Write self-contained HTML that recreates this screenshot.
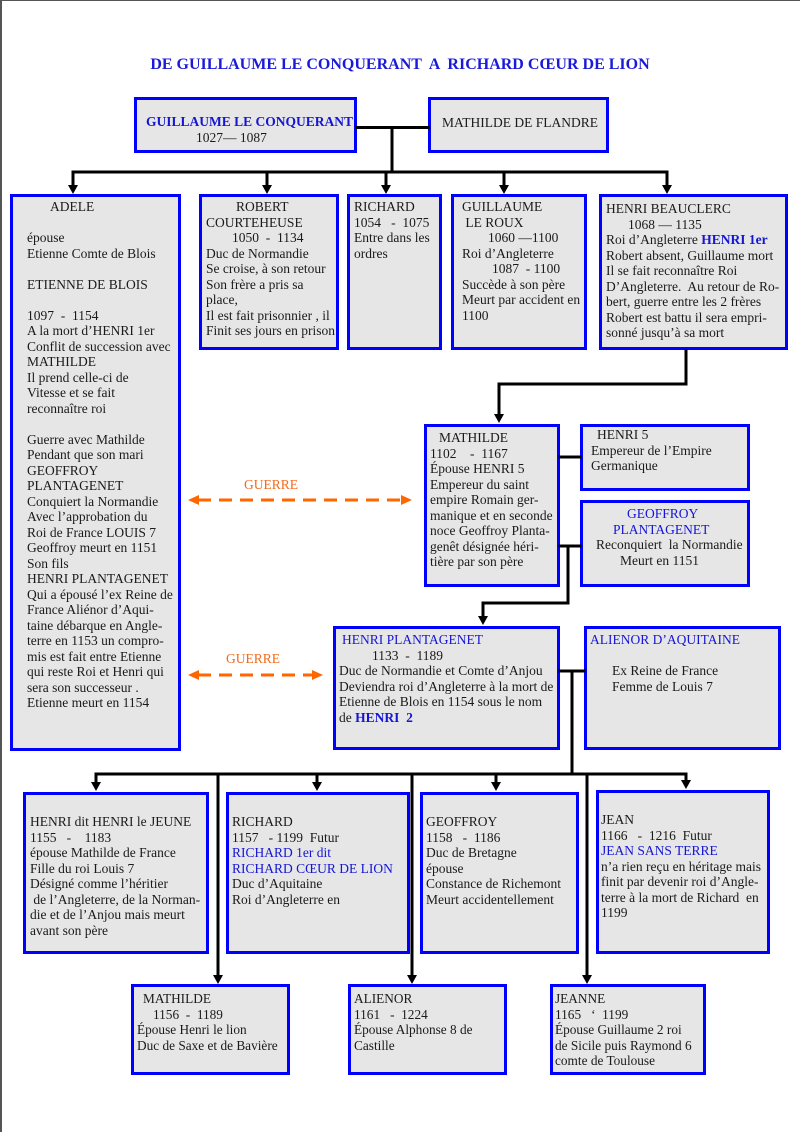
<!DOCTYPE html>
<html><head><meta charset="utf-8">
<style>
html,body{margin:0;padding:0;background:#fff;}
#pg{position:relative;width:800px;height:1132px;overflow:hidden;background:#fff;font-family:"Liberation Serif","DejaVu Serif",serif;color:#1a1a1a;}
.bl{position:absolute;left:0;top:0;width:2px;height:1132px;background:#555;}
.bt{position:absolute;left:0;top:0;width:800px;height:1px;background:#555;}
.bx{position:absolute;box-sizing:border-box;border:3px solid #0000ff;background:#e6e6e6;}
.t{position:absolute;font-size:13.5px;line-height:15.5px;white-space:normal;}
.t div{height:15.5px;white-space:pre;}
.s{font-size:13.3px;}
.b{color:#1515d5;}
.bb{color:#1515d5;font-weight:bold;}
.title{position:absolute;left:0;top:55px;width:800px;text-align:center;font-weight:bold;font-size:16px;color:#1a1ad8;white-space:pre;line-height:20px;}
.g{position:absolute;color:#f26a1b;font-size:13.5px;line-height:15.5px;}
svg{position:absolute;left:0;top:0;}
</style></head><body>
<div id="pg">
<div class="bl"></div><div class="bt"></div>
<div class="title">DE GUILLAUME LE CONQUERANT  A  RICHARD CŒUR DE LION</div>

<!-- boxes -->
<div class="bx" style="left:134px;top:97px;width:223px;height:56px;"></div>
<div class="bx" style="left:428px;top:97px;width:181px;height:56px;"></div>
<div class="bx" style="left:10px;top:194px;width:171px;height:557px;"></div>
<div class="bx" style="left:199px;top:194px;width:140px;height:156px;"></div>
<div class="bx" style="left:347px;top:194px;width:95px;height:156px;"></div>
<div class="bx" style="left:451px;top:194px;width:136px;height:156px;"></div>
<div class="bx" style="left:599px;top:194px;width:189px;height:156px;"></div>
<div class="bx" style="left:424px;top:424px;width:136px;height:163px;"></div>
<div class="bx" style="left:580px;top:424px;width:170px;height:67px;"></div>
<div class="bx" style="left:580px;top:500px;width:170px;height:87px;"></div>
<div class="bx" style="left:333px;top:626px;width:227px;height:124px;"></div>
<div class="bx" style="left:584px;top:626px;width:197px;height:124px;"></div>
<div class="bx" style="left:23px;top:792px;width:186px;height:162px;"></div>
<div class="bx" style="left:226px;top:792px;width:184px;height:162px;"></div>
<div class="bx" style="left:420px;top:792px;width:159px;height:162px;"></div>
<div class="bx" style="left:596px;top:790px;width:174px;height:164px;"></div>
<div class="bx" style="left:131px;top:984px;width:159px;height:91px;"></div>
<div class="bx" style="left:348px;top:984px;width:159px;height:91px;"></div>
<div class="bx" style="left:550px;top:984px;width:156px;height:91px;"></div>

<svg width="800" height="1132" viewBox="0 0 800 1132">
<g stroke="#000" stroke-width="3" fill="none" stroke-linecap="square">
<path d="M357 127.5H428 M392 127.5V172 M73 172H667"/>
<path d="M73 172V186 M267 172V186 M386 172V186 M504 172V186 M667 172V186"/>
<path d="M686 351V384H499V414"/>
<path d="M560 457H580"/>
<path d="M560 546H580 M568 546V603H483V616"/>
<path d="M560 671H584 M572 671V774 M96 774H686"/>
<path d="M96 774V782 M317 774V782 M496 774V782 M686 774V780"/>
<path d="M218 774V975 M412 774V975 M587 774V975"/>
</g>
<g fill="#000">
<polygon points="68,185 78,185 73,194"/>
<polygon points="262,185 272,185 267,194"/>
<polygon points="381,185 391,185 386,194"/>
<polygon points="499,185 509,185 504,194"/>
<polygon points="662,185 672,185 667,194"/>
<polygon points="494,414 504,414 499,423"/>
<polygon points="478,616 488,616 483,625"/>
<polygon points="91,782 101,782 96,791"/>
<polygon points="312,782 322,782 317,791"/>
<polygon points="491,782 501,782 496,791"/>
<polygon points="681,780 691,780 686,789"/>
<polygon points="213,975 223,975 218,984"/>
<polygon points="407,975 417,975 412,984"/>
<polygon points="582,975 592,975 587,984"/>
</g>
<g stroke="#ff6600" stroke-width="3" fill="none" stroke-dasharray="13 8">
<path d="M198 500H402"/>
<path d="M198 675H313"/>
</g>
<g fill="#ff6600">
<polygon points="188,500 199,495 199,505"/>
<polygon points="412,500 401,495 401,505"/>
<polygon points="188,675 199,670 199,680"/>
<polygon points="323,675 312,670 312,680"/>
</g>
</svg>

<div class="g" style="left:244px;top:477px;">GUERRE</div>
<div class="g" style="left:226px;top:651px;">GUERRE</div>

<!-- texts -->
<div class="t" style="left:146px;top:114px;"><div class="bb">GUILLAUME LE CONQUERANT</div><div style="padding-left:50px">1027— 1087</div></div>
<div class="t" style="left:442px;top:115px;"><div>MATHILDE DE FLANDRE</div></div>

<div class="t" style="left:27px;top:199px;">
<div style="padding-left:23px">ADELE</div>
<div></div>
<div>épouse</div>
<div>Etienne Comte de Blois</div>
<div></div>
<div>ETIENNE DE BLOIS</div>
<div></div>
<div>1097  -  1154</div>
<div>A la mort d’HENRI 1er</div>
<div>Conflit de succession avec</div>
<div>MATHILDE</div>
<div>Il prend celle-ci de</div>
<div>Vitesse et se fait</div>
<div>reconnaître roi</div>
<div></div>
<div>Guerre avec Mathilde</div>
<div>Pendant que son mari</div>
<div>GEOFFROY</div>
<div>PLANTAGENET</div>
<div>Conquiert la Normandie</div>
<div>Avec l’approbation du</div>
<div>Roi de France LOUIS 7</div>
<div>Geoffroy meurt en 1151</div>
<div>Son fils</div>
<div>HENRI PLANTAGENET</div>
<div>Qui a épousé l’ex Reine de</div>
<div>France Aliénor d’Aqui-</div>
<div>taine débarque en Angle-</div>
<div>terre en 1153 un compro-</div>
<div>mis est fait entre Etienne</div>
<div>qui reste Roi et Henri qui</div>
<div>sera son successeur .</div>
<div>Etienne meurt en 1154</div>
</div>

<div class="t" style="left:206px;top:199px;">
<div style="padding-left:30px">ROBERT</div>
<div>COURTEHEUSE</div>
<div style="padding-left:26px">1050  -  1134</div>
<div>Duc de Normandie</div>
<div>Se croise, à son retour</div>
<div>Son frère a pris sa</div>
<div>place,</div>
<div>Il est fait prisonnier , il</div>
<div>Finit ses jours en prison</div>
</div>

<div class="t" style="left:354px;top:199px;">
<div>RICHARD</div>
<div>1054   -  1075</div>
<div>Entre dans les</div>
<div>ordres</div>
</div>

<div class="t" style="left:462px;top:199px;">
<div>GUILLAUME</div>
<div> LE ROUX</div>
<div style="padding-left:26px">1060 —1100</div>
<div>Roi d’Angleterre</div>
<div style="padding-left:30px">1087  - 1100</div>
<div>Succède à son père</div>
<div>Meurt par accident en</div>
<div>1100</div>
</div>

<div class="t" style="left:606px;top:201px;">
<div>HENRI BEAUCLERC</div>
<div style="padding-left:22px">1068 — 1135</div>
<div>Roi d’Angleterre <span class="bb">HENRI 1er</span></div>
<div>Robert absent, Guillaume mort</div>
<div>Il se fait reconnaître Roi</div>
<div>D’Angleterre.  Au retour de Ro-</div>
<div>bert, guerre entre les 2 frères</div>
<div>Robert est battu il sera empri-</div>
<div>sonné jusqu’à sa mort</div>
</div>

<div class="t" style="left:430px;top:430px;">
<div style="padding-left:9px">MATHILDE</div>
<div>1102    -  1167</div>
<div>Épouse HENRI 5</div>
<div>Empereur du saint</div>
<div>empire Romain ger-</div>
<div>manique et en seconde</div>
<div>noce Geoffroy Planta-</div>
<div>genêt désignée héri-</div>
<div>tière par son père</div>
</div>

<div class="t" style="left:591px;top:427px;">
<div style="padding-left:6px">HENRI 5</div>
<div>Empereur de l’Empire</div>
<div>Germanique</div>
</div>

<div class="t" style="left:596px;top:506px;">
<div class="b" style="padding-left:31px">GEOFFROY</div>
<div class="b" style="padding-left:17px">PLANTAGENET</div>
<div>Reconquiert  la Normandie</div>
<div style="padding-left:24px">Meurt en 1151</div>
</div>

<div class="t" style="left:339px;top:632px;">
<div class="b" style="padding-left:3px">HENRI PLANTAGENET</div>
<div style="padding-left:33px">1133  -  1189</div>
<div>Duc de Normandie et Comte d’Anjou</div>
<div>Deviendra roi d’Angleterre à la mort de</div>
<div>Etienne de Blois en 1154 sous le nom</div>
<div>de <span class="bb">HENRI  2</span></div>
</div>

<div class="t" style="left:590px;top:632px;">
<div class="b">ALIENOR D’AQUITAINE</div>
<div></div>
<div style="padding-left:22px">Ex Reine de France</div>
<div style="padding-left:22px">Femme de Louis 7</div>
</div>

<div class="t" style="left:30px;top:814px;">
<div>HENRI dit HENRI le JEUNE</div>
<div>1155   -    1183</div>
<div>épouse Mathilde de France</div>
<div>Fille du roi Louis 7</div>
<div>Désigné comme l’héritier</div>
<div> de l’Angleterre, de la Norman-</div>
<div>die et de l’Anjou mais meurt</div>
<div>avant son père</div>
</div>

<div class="t" style="left:232px;top:814px;">
<div>RICHARD</div>
<div>1157   - 1199  Futur</div>
<div class="b">RICHARD 1er dit</div>
<div class="b">RICHARD CŒUR DE LION</div>
<div>Duc d’Aquitaine</div>
<div>Roi d’Angleterre en</div>
</div>

<div class="t" style="left:426px;top:814px;">
<div>GEOFFROY</div>
<div>1158   -  1186</div>
<div>Duc de Bretagne</div>
<div>épouse</div>
<div>Constance de Richemont</div>
<div>Meurt accidentellement</div>
</div>

<div class="t" style="left:601px;top:812px;">
<div>JEAN</div>
<div>1166   -  1216  Futur</div>
<div class="b">JEAN SANS TERRE</div>
<div>n’a rien reçu en héritage mais</div>
<div>finit par devenir roi d’Angle-</div>
<div>terre à la mort de Richard  en</div>
<div>1199</div>
</div>

<div class="t s" style="left:137px;top:991px;">
<div style="padding-left:6px">MATHILDE</div>
<div style="padding-left:16px">1156  -  1189</div>
<div>Épouse Henri le lion</div>
<div>Duc de Saxe et de Bavière</div>
</div>

<div class="t s" style="left:354px;top:991px;">
<div>ALIENOR</div>
<div>1161   -  1224</div>
<div>Épouse Alphonse 8 de</div>
<div>Castille</div>
</div>

<div class="t s" style="left:555px;top:991px;">
<div>JEANNE</div>
<div>1165   ‘  1199</div>
<div>Épouse Guillaume 2 roi</div>
<div>de Sicile puis Raymond 6</div>
<div>comte de Toulouse</div>
</div>

</div>
</body></html>
